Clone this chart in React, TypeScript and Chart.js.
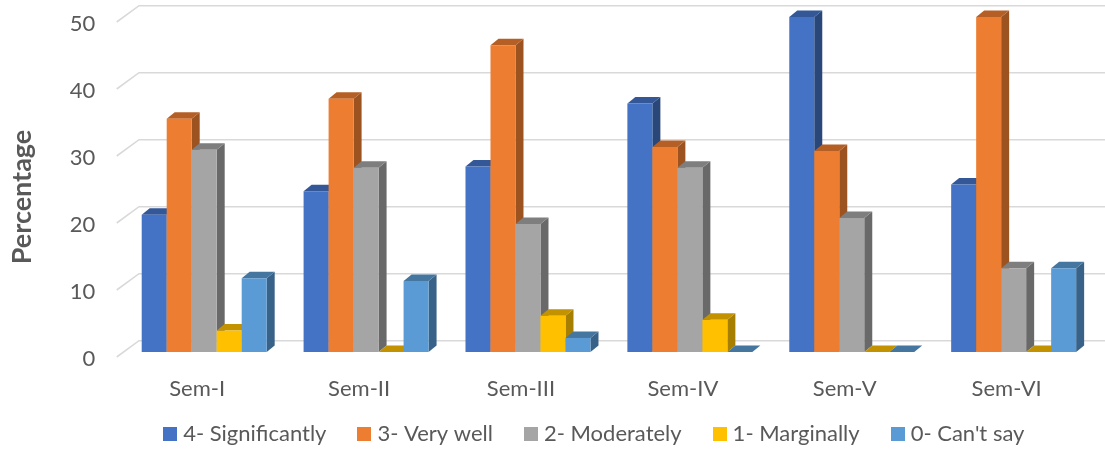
import React, { useEffect, useRef } from "react";
import { Chart, registerables } from "chart.js";

Chart.register(...registerables);

const categories = ["Sem-I", "Sem-II", "Sem-III", "Sem-IV", "Sem-V", "Sem-VI"];
const significantly = [20.5, 24, 27.7, 37.1, 50, 25];
const veryWell = [34.8, 37.8, 45.8, 30.6, 30, 50];
const moderately = [30.2, 27.5, 19.1, 27.5, 20, 12.5];
const marginally = [3.2, 0, 5.4, 4.8, 0, 0];
const cantSay = [11, 10.6, 2.1, 0, 0, 12.5];

const seriesNames = ["4- Significantly", "3- Very well", "2- Moderately", "1- Marginally", "0- Can't say"];
const seriesValues = [significantly, veryWell, moderately, marginally, cantSay];
const frontColors = ["#4472C4", "#ED7D31", "#A5A5A5", "#FFC000", "#5B9BD5"];
const sideColors = ["#294779", "#9C531F", "#696969", "#A67E00", "#386287"];
const topColors = ["#335797", "#B65F25", "#7E7E7E", "#C29200", "#45769F"];

const DEPTH_X = 8;
const DEPTH_Y = 6.5;
const TEXT = "#595959";
const FONT = "Lato";
const LEGEND_PADDING = 36;
const FLOOR_Y = 352;

function swatch(color: string) {
  const c = document.createElement("canvas");
  c.width = 14;
  c.height = 14;
  const g = c.getContext("2d")!;
  g.fillStyle = color;
  g.fillRect(0, 0, 14, 14);
  return c;
}

const bars3d = {
  id: "bars3d",
  afterLayout(chart: any) {
    const legend = chart.legend;
    legend.left += 49;
    legend.right += 49;
    legend.top = 434 - LEGEND_PADDING - 11;
    chart.scales.x.bottom = 450;
    const y = chart.scales.y;
    if (!y.__wrapped) {
      const orig = y.drawTitle.bind(y);
      y.drawTitle = () => {
        chart.ctx.save();
        chart.ctx.translate(0, 12.5);
        orig();
        chart.ctx.restore();
      };
      y.__wrapped = true;
    }
  },
  beforeDatasetDraw() {
    return false;
  },
  beforeDatasetsDraw(chart: any) {
    const { ctx, scales } = chart;
    const y = scales.y;
    ctx.save();
    ctx.strokeStyle = "#D9D9D9";
    ctx.lineWidth = 1.6;
    y.ticks.forEach((t: any) => {
      const py = y.getPixelForValue(t.value);
      ctx.beginPath();
      ctx.moveTo(116.7, py + 5);
      ctx.lineTo(139, py - 11.3);
      ctx.lineTo(1105, py - 11.3);
      ctx.stroke();
    });
    seriesNames.forEach((_, i) => {
      const meta = chart.getDatasetMeta(i);
      meta.data.forEach((bar: any) => {
        const left = bar.x - bar.width / 2;
        const right = bar.x + bar.width / 2;
        const top = bar.y;
        const base = bar.base;
        ctx.fillStyle = sideColors[i];
        ctx.beginPath();
        ctx.moveTo(right, top);
        ctx.lineTo(right + DEPTH_X, top - DEPTH_Y);
        ctx.lineTo(right + DEPTH_X, base - DEPTH_Y);
        ctx.lineTo(right, base);
        ctx.closePath();
        ctx.fill();
        ctx.fillStyle = topColors[i];
        ctx.beginPath();
        ctx.moveTo(left, top);
        ctx.lineTo(left + DEPTH_X, top - DEPTH_Y);
        ctx.lineTo(right + DEPTH_X, top - DEPTH_Y);
        ctx.lineTo(right, top);
        ctx.closePath();
        ctx.fill();
      });
      meta.controller.draw();
    });
    ctx.restore();
  },
};

export default function App() {
  const ref = useRef<HTMLCanvasElement>(null);
  useEffect(() => {
    const chart = new Chart(ref.current!, {
      type: "bar",
      data: {
        labels: categories,
        datasets: seriesNames.map((name, i) => ({
          label: name,
          data: seriesValues[i],
          backgroundColor: frontColors[i],
          barPercentage: 1,
          categoryPercentage: 0.772,
        })),
      },
      options: {
        responsive: false,
        animation: false,
        devicePixelRatio: 1,
        layout: { autoPadding: false, padding: { top: 17, right: 10.4, left: 0, bottom: 0 } },
        plugins: {
          tooltip: { enabled: false },
          legend: {
            position: "bottom",
            labels: {
              color: TEXT,
              font: { family: FONT, size: 22 },
              usePointStyle: true,
              pointStyleWidth: 4,
              boxHeight: 14,
              padding: LEGEND_PADDING,
              generateLabels: (c: any) =>
                Chart.defaults.plugins.legend.labels.generateLabels(c).map((item: any, i: number) => ({
                  ...item,
                  pointStyle: swatch(frontColors[i]),
                })),
            },
          },
        },
        scales: {
          x: {
            grid: { display: false, drawTicks: false },
            border: { display: false },
            ticks: { color: TEXT, font: { family: FONT, size: 22 }, padding: 24, labelOffset: -7, maxRotation: 0 },
            afterFit: (s: any) => {
              s.height = 450 - FLOOR_Y - s.chart.legend.height;
            },
          },
          y: {
            min: 0,
            max: 50,
            grid: { display: false, drawTicks: false },
            border: { display: false },
            ticks: { stepSize: 10, color: TEXT, font: { family: FONT, size: 22 }, padding: 28, labelOffset: 7 },
            title: {
              display: true,
              text: "Percentage",
              color: TEXT,
              font: { family: FONT, size: 27, weight: "bold" },
              padding: { top: 6, bottom: 0 },
            },
            afterFit: (s: any) => {
              s.width = 123.25;
              s.paddingTop = 0;
              s.paddingBottom = 0;
            },
          },
        },
      },
      plugins: [bars3d],
    } as any);
    return () => chart.destroy();
  }, []);
  return (
    <div style={{ position: "absolute", left: 0, top: 0, width: 1105, height: 450 }}>
      <canvas ref={ref} width={1105} height={450} style={{ display: "block" }} />
    </div>
  );
}
